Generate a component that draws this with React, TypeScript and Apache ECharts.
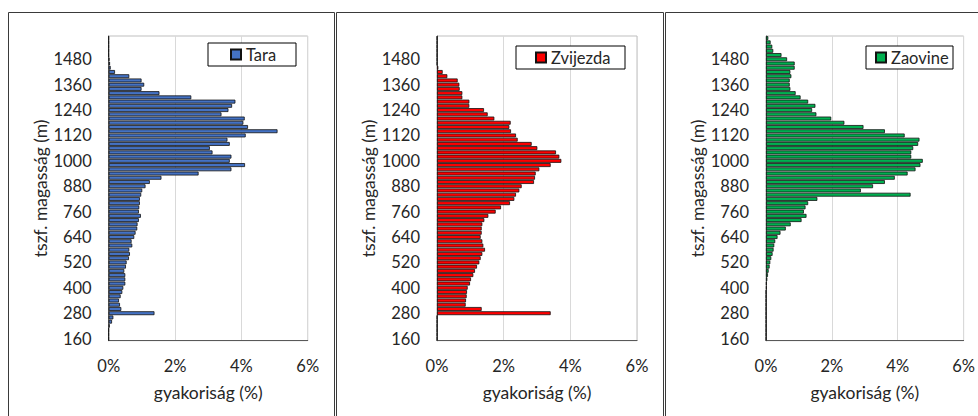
import { useEffect, useRef } from "react";
import * as echarts from "echarts";

// Elevation bins (m), 20 m wide, from the lowest to the highest
const elevations = [
  "160", "180", "200", "220", "240", "260", "280", "300", "320", "340", "360", "380",
  "400", "420", "440", "460", "480", "500", "520", "540", "560", "580", "600", "620",
  "640", "660", "680", "700", "720", "740", "760", "780", "800", "820", "840", "860",
  "880", "900", "920", "940", "960", "980", "1000", "1020", "1040", "1060", "1080", "1100",
  "1120", "1140", "1160", "1180", "1200", "1220", "1240", "1260", "1280", "1300", "1320", "1340",
  "1360", "1380", "1400", "1420", "1440", "1460", "1480", "1500", "1520", "1540", "1560", "1580",
];

// Frequency (%) per elevation bin
const tara = [
  0, 0, 0, 0.03, 0.1, 0.14, 1.38, 0.38, 0.34, 0.31, 0.36, 0.41,
  0.44, 0.5, 0.5, 0.5, 0.47, 0.52, 0.54, 0.61, 0.64, 0.62, 0.71, 0.69,
  0.77, 0.81, 0.86, 0.87, 0.91, 0.97, 0.91, 0.92, 0.94, 0.94, 0.98, 1.01,
  1.11, 1.24, 1.59, 2.71, 3.7, 4.11, 3.65, 3.7, 3.13, 3.05, 3.65, 3.58,
  4.13, 5.09, 4.2, 4.06, 4.1, 3.4, 3.61, 3.72, 3.82, 2.49, 1.53, 0.99,
  1.07, 0.99, 0.62, 0.19, 0.06, 0.04, 0.02, 0, 0, 0, 0, 0,
];

const zvijezda = [
  0, 0, 0, 0, 0, 0, 3.41, 1.34, 0.86, 0.87, 0.89, 0.9,
  0.92, 0.99, 1.02, 1.09, 1.14, 1.2, 1.27, 1.31, 1.36, 1.44, 1.39, 1.36,
  1.31, 1.34, 1.34, 1.36, 1.42, 1.54, 1.76, 1.92, 2.19, 2.32, 2.37, 2.47,
  2.54, 2.91, 2.94, 2.96, 3.07, 3.41, 3.73, 3.67, 3.57, 3.01, 2.84, 2.42,
  2.37, 2.22, 2.17, 2.21, 1.72, 1.52, 1.41, 0.97, 0.97, 0.76, 0.76, 0.68,
  0.67, 0.62, 0.31, 0.17, 0.04, 0, 0, 0, 0, 0, 0, 0,
];

const zaovine = [
  0, 0, 0, 0, 0, 0, 0, 0, 0, 0, 0, 0,
  0.02, 0.02, 0.04, 0.06, 0.08, 0.11, 0.13, 0.16, 0.2, 0.23, 0.25, 0.28,
  0.35, 0.44, 0.6, 0.75, 1.08, 1.23, 1.15, 1.2, 1.28, 1.56, 4.39, 2.88,
  3.25, 3.61, 3.91, 4.3, 4.54, 4.69, 4.76, 4.41, 4.41, 4.47, 4.62, 4.66,
  4.21, 3.61, 2.96, 2.38, 1.98, 1.53, 1.4, 1.5, 1.28, 1.05, 0.9, 0.74,
  0.72, 0.72, 0.77, 0.74, 0.87, 0.87, 0.64, 0.47, 0.22, 0.19, 0.14, 0.07,
];

const seriesNames = ["Tara", "Zvijezda", "Zaovine"];
const seriesData = [tara, zvijezda, zaovine];
const seriesColors = ["#4472C4", "#FF0000", "#00B050"];

const xTitle = "gyakoriság (%)";
const yTitle = "tszf. magasság (m)";

// Layout of the three side-by-side panels
const panels = [
  { frameX: 8.5, frameW: 326, plotLeft: 108.7, plotWidth: 199, legend: { left: 208, top: 43, padding: [3, 18, 3, 22], textWidth: 32 } },
  { frameX: 336.5, frameW: 327, plotLeft: 437, plotWidth: 200, legend: { left: 516, top: 46, padding: [3, 13, 3, 19], textWidth: 61 } },
  { frameX: 665.5, frameW: 330, plotLeft: 766, plotWidth: 199, legend: { left: 866, top: 46, padding: [3, 2, 3, 9], textWidth: 60 } },
];

const FONT = "Lato, 'Open Sans', sans-serif";
const TEXT = "#262626";
const TICK_SIZE = 16.5;
const TITLE_SIZE = 17.5;

export default function App() {
  const ref = useRef<HTMLDivElement>(null);

  useEffect(() => {
    if (!ref.current) return;
    const chart = echarts.init(ref.current, undefined, { renderer: "svg" });

    const option: any = {
      animation: false,
      backgroundColor: "#ffffff",
      textStyle: { fontFamily: FONT },
      graphic: panels.map((p) => ({
        type: "rect",
        shape: { x: p.frameX, y: 12.5, width: p.frameW, height: 420 },
        style: { fill: "none", stroke: "#3a3a3a", lineWidth: 1 },
        silent: true,
        z: 100,
      })),
      grid: panels.map((p) => ({
        left: p.plotLeft,
        top: 36,
        width: p.plotWidth,
        height: 304.7,
        show: true,
        borderColor: "#bfbfbf",
        borderWidth: 1,
        backgroundColor: "transparent",
      })),
      xAxis: panels.map((_, i) => ({
        type: "value",
        gridIndex: i,
        min: 0,
        max: 6,
        interval: 2,
        name: xTitle,
        nameLocation: "middle",
        nameGap: 43,
        nameTextStyle: { fontFamily: FONT, fontSize: TITLE_SIZE, color: TEXT },
        axisLine: { show: true, lineStyle: { color: "#595959", width: 1 } },
        axisTick: { show: false },
        axisLabel: { formatter: "{value}%", margin: 17, fontFamily: FONT, fontSize: TICK_SIZE, color: TEXT },
        splitLine: { show: true, lineStyle: { color: "#d9d9d9", width: 1 } },
      })),
      yAxis: panels.map((_, i) => ({
        type: "category",
        gridIndex: i,
        data: elevations,
        name: yTitle,
        nameLocation: "middle",
        nameRotate: 90,
        nameGap: 59.5,
        nameTextStyle: { fontFamily: FONT, fontSize: TITLE_SIZE, color: TEXT },
        axisLine: { show: true, lineStyle: { color: "#595959", width: 1 } },
        axisTick: { show: false },
        axisLabel: { interval: 5, margin: 17, fontFamily: FONT, fontSize: TICK_SIZE, color: TEXT },
        splitLine: { show: false },
      })),
      legend: panels.map((p, i) => ({
        data: [seriesNames[i]],
        left: p.legend.left,
        top: p.legend.top,
        orient: "horizontal",
        padding: p.legend.padding,
        itemWidth: 10,
        itemHeight: 10,
        icon: "rect",
        borderColor: "#000000",
        borderWidth: 1,
        backgroundColor: "#ffffff",
        textStyle: {
          fontFamily: FONT,
          fontSize: 16.5,
          color: TEXT,
          lineHeight: 16,
          width: p.legend.textWidth,
        },
        selectedMode: false,
      })),
      series: seriesNames.map((name, i) => ({
        name,
        type: "bar",
        xAxisIndex: i,
        yAxisIndex: i,
        data: seriesData[i],
        barCategoryGap: "8%",
        itemStyle: { color: seriesColors[i], borderColor: "#111111", borderWidth: 0.8 },
      })),
    };

    chart.setOption(option);
    return () => chart.dispose();
  }, []);

  return (
    <div
      ref={ref}
      style={{ position: "fixed", left: 0, top: 0, width: 978, height: 416, background: "#fff" }}
    />
  );
}
